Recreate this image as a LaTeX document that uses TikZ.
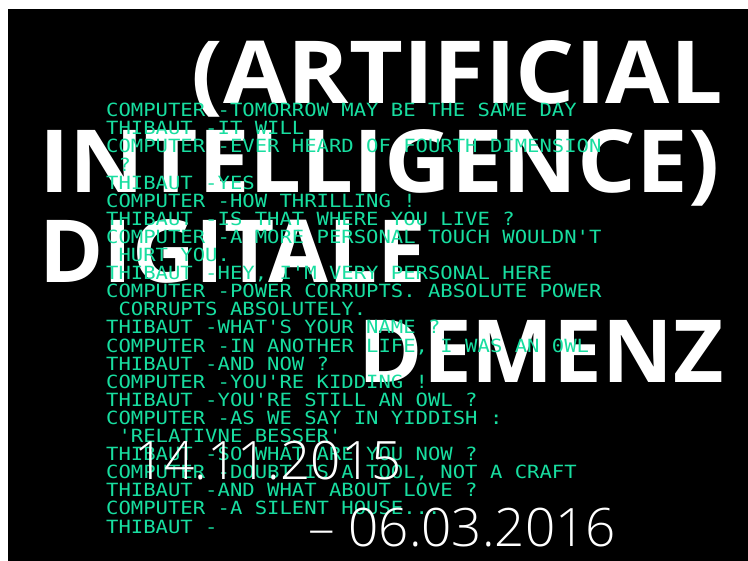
\documentclass[tikz,border=0pt]{standalone}
\usepackage{graphicx}
\usepackage{fontspec}
\setmainfont{Open Sans}
\newfontfamily\termfont[FakeStretch=1.13]{DejaVu Sans Mono}
\newfontfamily\datefont{Open Sans Light}
\definecolor{termgreen}{RGB}{24,222,160}
\tikzset{
  title/.style={text=white, font=\bfseries\fontsize{87}{87}\selectfont, inner sep=0pt},
  datum/.style={text=white, font=\datefont\fontsize{53}{53}\selectfont, inner sep=0pt},
  terminal/.style={text=termgreen, align=left, inner sep=0pt,
    font=\termfont\fontsize{18.2}{18.1}\selectfont},
}
\newcommand{\ind}{\hphantom{C}}

\begin{document}
\begin{tikzpicture}[x=1pt, y=-1pt]
\fill[white] (0,0) rectangle (748,561);
\fill[black] (8,9) rectangle (748,561);
\useasboundingbox (0,0) rectangle (748,561);

% title
\node[title, anchor=base east] (artificial) at (723,104) {\scalebox{1.07}[1]{(ARTIFICIAL}};
\node[title, anchor=base west] (intelligence) at (39,193) {\scalebox{1.06}[1]{INTELLIGENCE)}};
\node[title, anchor=base west] (digitale) at (39,283) {DIGITALE};
\node[title, anchor=base east] (demenz) at (724,383) {DEMENZ};

% dialog
\node[terminal, anchor=north west] (dialog) at (106,103) {%
COMPUTER -TOMORROW MAY BE THE SAME DAY\\
THIBAUT -IT WILL\\
COMPUTER -EVER HEARD OF FOURTH DIMENSION\\
\ind ?\\
THIBAUT -YES\\
COMPUTER -HOW THRILLING !\\
THIBAUT -IS THAT WHERE YOU LIVE ?\\
COMPUTER -A MORE PERSONAL TOUCH WOULDN'T\\
\ind HURT YOU.\\
THIBAUT -HEY, I'M VERY PERSONAL HERE\\
COMPUTER -POWER CORRUPTS. ABSOLUTE POWER\\
\ind CORRUPTS ABSOLUTELY.\\
THIBAUT -WHAT'S YOUR NAME ?\\
COMPUTER -IN ANOTHER LIFE, I WAS AN 0WL\\
THIBAUT -AND NOW ?\\
COMPUTER -YOU'RE KIDDING !\\
THIBAUT -YOU'RE STILL AN OWL ?\\
COMPUTER -AS WE SAY IN YIDDISH :\\
\ind 'RELATIVNE BESSER'\\
THIBAUT -SO WHAT ARE YOU NOW ?\\
COMPUTER -DOUBT IS A TOOL, NOT A CRAFT\\
THIBAUT -AND WHAT ABOUT LOVE ?\\
COMPUTER -A SILENT HOUSE...\\
THIBAUT -};

% dates
\node[datum, anchor=base west] (start) at (134,480) {14.11.2015};
\node[datum, anchor=base east] (end) at (616,547) {– 06.03.2016};
\end{tikzpicture}
\end{document}
